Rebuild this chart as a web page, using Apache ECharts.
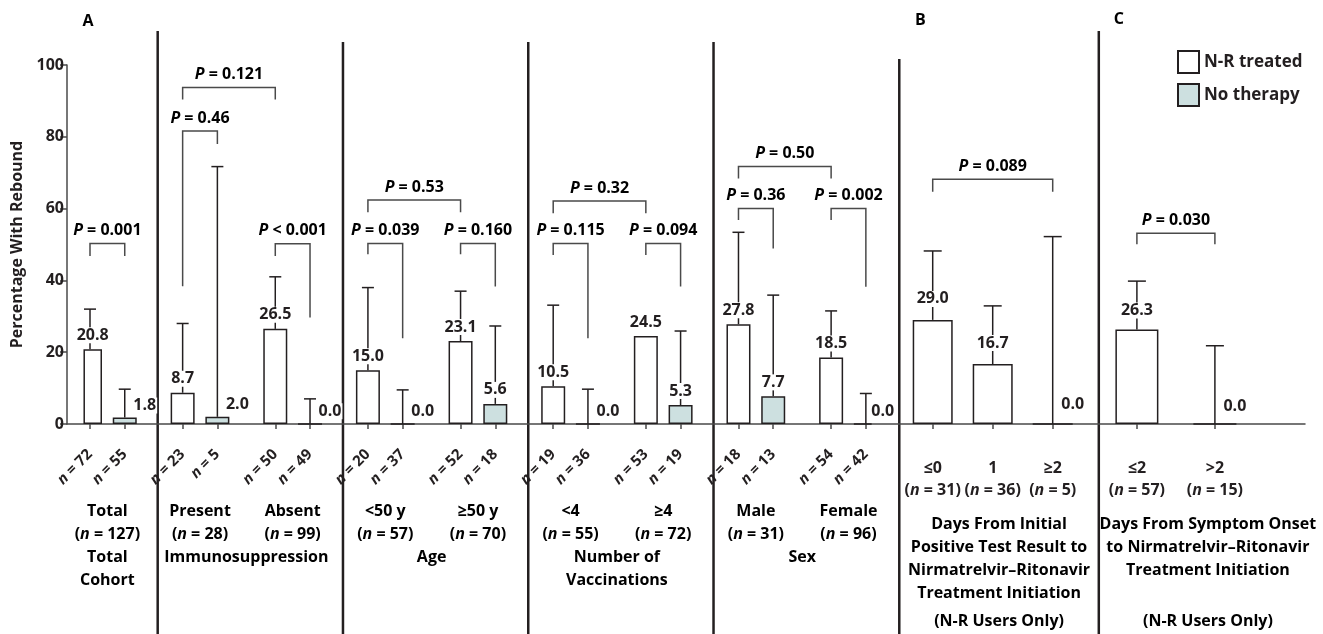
<!DOCTYPE html>
<html>
<head>
<meta charset="utf-8">
<script src="https://cdn.jsdelivr.net/npm/echarts@6/dist/echarts.min.js"></script>
<style>
  html, body { margin: 0; padding: 0; background: #fff; }
  #chart { width: 1323px; height: 634px; }
</style>
</head>
<body>
<div id="chart"></div>
<script>
// panel A: each subgroup has an N-R treated bar and a no-therapy bar
const subgroupsA = ['Total', 'Present', 'Absent', '<50 y', '≥50 y', '<4', '≥4', 'Male', 'Female'];
const subgroupTotalsA = [127, 28, 99, 57, 70, 55, 72, 31, 96];
const treatedNA = [72, 23, 50, 20, 52, 19, 53, 18, 54];
const untreatedNA = [55, 5, 49, 37, 18, 36, 19, 13, 42];
const treatedPctA = [20.8, 8.7, 26.5, 15.0, 23.1, 10.5, 24.5, 27.8, 18.5];
const untreatedPctA = [1.8, 2.0, 0.0, 0.0, 5.6, 0.0, 5.3, 7.7, 0.0];
const treatedUpperA = [32.0, 28.0, 41.0, 38.0, 37.0, 33.1, null, 53.4, 31.5];
const untreatedUpperA = [9.7, 71.7, 7.0, 9.5, 27.3, 9.7, 25.9, 35.9, 8.5];
const groupNamesA = ['Total\nCohort', 'Immunosuppression', 'Age', 'Number of\nVaccinations', 'Sex'];
const groupMembersA = [[0], [1, 2], [3, 4], [5, 6], [7, 8]];

// panel A comparisons: bars are T<i> (treated) / U<i> (no therapy)
const pTextA = ['= 0.001', '= 0.121', '= 0.46', '< 0.001', '= 0.53', '= 0.039', '= 0.160',
  '= 0.32', '= 0.115', '= 0.094', '= 0.50', '= 0.36', '= 0.002'];
const pFromA = ['T0', 'T1', 'T1', 'T2', 'T3', 'T3', 'T4', 'T5', 'T5', 'T6', 'T7', 'T7', 'T8'];
const pToA = ['U0', 'T2', 'U1', 'U2', 'T4', 'U3', 'U4', 'T6', 'U5', 'U6', 'T8', 'U7', 'U8'];
const pTopA = [50.3, 93.7, 81.6, 50.2, 62.4, 50.3, 50.3, 62.1, 50.3, 50.3, 71.7, 60.0, 60.0];
const pLeftEndA = [46.8, 90.4, 38.4, 46.8, 59.0, 47.3, 47.3, 58.7, 47.1, 47.1, 68.4, 56.8, 56.8];
const pRightEndA = [46.8, 90.4, 78.0, 29.7, 59.0, 23.9, 38.3, 58.7, 23.9, 38.3, 68.4, 48.9, 38.2];

// panel B: days from positive test to N-R start
const daysTestCats = ['≤0', '1', '≥2'];
const daysTestN = [31, 36, 5];
const daysTestPct = [29.0, 16.7, 0.0];
const daysTestUpper = [48.2, 32.9, 52.2];
const pTextB = ['= 0.089'];
const pBracketB = [[0, 2, 68.2, 64.7, 64.7]];

// panel C: days from symptom onset to N-R start
const daysOnsetCats = ['≤2', '>2'];
const daysOnsetN = [57, 15];
const daysOnsetPct = [26.3, 0.0];
const daysOnsetUpper = [39.8, 21.8];
const pTextC = ['= 0.030'];
const pBracketC = [[0, 1, 53.1, 50.1, 50.1]];

const INK = '#231f20';
const LINE = '#4a4a4a';
const FONT = '"Open Sans", "DejaVu Sans", sans-serif';
const NO_THERAPY = '#cde0e0';

const txt = (size, extra) => Object.assign({ fontFamily: FONT, fontWeight: 'bold', fontSize: size, color: INK }, extra || {});
const richN = (size, lh) => ({ i: txt(size, { fontStyle: 'italic', lineHeight: lh }), b: txt(size, { lineHeight: lh }) });

// slots on panel A axis: pairs 3 slots apart, 8 slots per subgroup
const slotOf = (i, untreated) => i * 8 + (untreated ? 3 : 0);
const nSlots = slotOf(subgroupsA.length - 1, true) + 1;
const slotCats = Array.from({ length: nSlots }, (_, k) => '#' + k);
subgroupsA.forEach((_, i) => {
  slotCats[slotOf(i, false)] = String(treatedNA[i]);
  slotCats[slotOf(i, true)] = String(untreatedNA[i]);
});
const isBar = (idx, v) => v[0] !== '#';
const barRef = s => slotOf(+s.slice(1), s[0] === 'U');

const smallLabel = v => (v < 3 ? { value: v, label: { offset: [20, 2] } } : v);
const slotSeries = untreated => slotCats.map((_, k) => {
  const i = subgroupsA.findIndex((__, j) => slotOf(j, untreated) === k);
  return i < 0 ? '-' : smallLabel(untreated ? untreatedPctA[i] : treatedPctA[i]);
});

const errorA = [];
subgroupsA.forEach((_, i) => {
  if (treatedUpperA[i] != null) errorA.push([slotOf(i, false), treatedPctA[i], treatedUpperA[i]]);
  errorA.push([slotOf(i, true), untreatedPctA[i], untreatedUpperA[i]]);
});
const bracketA = pTextA.map((_, k) => [barRef(pFromA[k]), barRef(pToA[k]), pTopA[k], pLeftEndA[k], pRightEndA[k]]);

const valueLabel = distance => txt(16, {
  show: true, position: 'top', distance,
  backgroundColor: '#fff', padding: [0, 1],
  formatter: p => Number(p.value).toFixed(1)
});

const makeErrorBar = cap => (params, api) => {
  const lo = api.coord([api.value(0), api.value(1)]);
  const hi = api.coord([api.value(0), api.value(2)]);
  const style = { stroke: INK, lineWidth: 1.5 };
  return {
    type: 'group', children: [
      { type: 'line', shape: { x1: lo[0], y1: lo[1], x2: hi[0], y2: hi[1] }, style },
      { type: 'line', shape: { x1: hi[0] - cap, y1: hi[1], x2: hi[0] + cap, y2: hi[1] }, style }
    ]
  };
};

const makeBracket = labels => (params, api) => {
  const x1 = api.coord([api.value(0), 0])[0];
  const x2 = api.coord([api.value(1), 0])[0];
  const yTop = api.coord([api.value(0), api.value(2)])[1];
  const yL = api.coord([api.value(0), api.value(3)])[1];
  const yR = api.coord([api.value(0), api.value(4)])[1];
  return {
    type: 'group', children: [
      { type: 'polyline', shape: { points: [[x1, yL], [x1, yTop], [x2, yTop], [x2, yR]] },
        style: { stroke: LINE, lineWidth: 1.5, fill: null } },
      { type: 'text', style: {
          text: '{i|P}{b| ' + labels[params.dataIndex] + '}', x: (x1 + x2) / 2, y: yTop - 3,
          align: 'center', verticalAlign: 'bottom', rich: richN(16, 20)
        } }
    ]
  };
};

const GRID_TOP = 65, GRID_H = 359;
const SLOT_PX = 11.58;
const gridA = { left: 90 - SLOT_PX / 2, width: nSlots * SLOT_PX, top: GRID_TOP, height: GRID_H };
const gridB = { left: 902.7, width: 180, top: GRID_TOP, height: GRID_H };
const gridC = { left: 1097.9, width: 156, top: GRID_TOP, height: GRID_H };

const hiddenY = gridIndex => ({ gridIndex, type: 'value', min: 0, max: 100, show: false });
const tickStyle = { lineStyle: { color: LINE, width: 1.5 } };

const option = {
  animation: false,
  backgroundColor: '#fff',
  legend: {
    data: ['N-R treated', 'No therapy'], orient: 'vertical', left: 1172, top: 45,
    itemWidth: 21, itemHeight: 22, itemGap: 9, icon: 'rect', selectedMode: false,
    textStyle: txt(17)
  },
  grid: [
    { left: 67, width: 1238, top: GRID_TOP, height: GRID_H },
    gridA, gridB, gridC
  ],
  xAxis: [
    { gridIndex: 0, type: 'value', min: 0, max: 1,
      axisLine: { show: true, lineStyle: { color: LINE, width: 1.5 } },
      axisTick: { show: false }, axisLabel: { show: false }, splitLine: { show: false } },
    { gridIndex: 1, type: 'category', data: slotCats,
      axisLine: { show: false },
      axisTick: Object.assign({ show: true, alignWithLabel: true, interval: isBar, length: 5 }, tickStyle),
      axisLabel: { interval: isBar, rotate: 45, margin: 28, formatter: v => '{i|n}{b| = ' + v + '}', rich: richN(15, 18) } },
    { gridIndex: 2, type: 'category', data: daysTestCats,
      axisLine: { show: false },
      axisTick: Object.assign({ show: true, alignWithLabel: true, length: 5 }, tickStyle),
      axisLabel: { interval: 0, margin: 33, formatter: (v, i) => '{b|' + v + '}\n{b|(}{i|n}{b| = ' + daysTestN[i] + ')}', rich: richN(16, 22) } },
    { gridIndex: 3, type: 'category', data: daysOnsetCats,
      axisLine: { show: false },
      axisTick: Object.assign({ show: true, alignWithLabel: true, length: 5 }, tickStyle),
      axisLabel: { interval: 0, margin: 33, formatter: (v, i) => '{b|' + v + '}\n{b|(}{i|n}{b| = ' + daysOnsetN[i] + ')}', rich: richN(16, 22) } }
  ],
  yAxis: [
    { gridIndex: 0, type: 'value', min: 0, max: 100, interval: 20,
      axisLine: { show: true, onZero: false, lineStyle: { color: LINE, width: 1.5 } },
      axisTick: Object.assign({ show: true, length: 7 }, tickStyle),
      axisLabel: txt(16, { margin: 3 }),
      splitLine: { show: false },
      name: 'Percentage With Rebound', nameLocation: 'middle', nameGap: 33,
      nameTextStyle: txt(16) },
    hiddenY(1), hiddenY(2), hiddenY(3)
  ],
  series: [
    { name: 'N-R treated', type: 'bar', xAxisIndex: 1, yAxisIndex: 1, z: 3,
      barWidth: 24, barGap: '-100%', data: slotSeries(false),
      itemStyle: { color: '#fff', borderColor: INK, borderWidth: 1.5 }, label: valueLabel(6) },
    { name: 'No therapy', type: 'bar', xAxisIndex: 1, yAxisIndex: 1, z: 3,
      barWidth: 24, barGap: '-100%', data: slotSeries(true),
      itemStyle: { color: NO_THERAPY, borderColor: INK, borderWidth: 1.5 }, label: valueLabel(6) },
    { type: 'custom', xAxisIndex: 1, yAxisIndex: 1, z: 2, renderItem: makeErrorBar(6), data: errorA },
    { type: 'custom', xAxisIndex: 1, yAxisIndex: 1, z: 2, renderItem: makeBracket(pTextA), data: bracketA },

    { name: 'N-R treated', type: 'bar', xAxisIndex: 2, yAxisIndex: 2, z: 3,
      barWidth: 40, data: daysTestPct.map(smallLabel),
      itemStyle: { color: '#fff', borderColor: INK, borderWidth: 1.5 }, label: valueLabel(13) },
    { type: 'custom', xAxisIndex: 2, yAxisIndex: 2, z: 2, renderItem: makeErrorBar(9),
      data: daysTestPct.map((v, i) => [i, v, daysTestUpper[i]]) },
    { type: 'custom', xAxisIndex: 2, yAxisIndex: 2, z: 2, renderItem: makeBracket(pTextB), data: pBracketB },

    { name: 'N-R treated', type: 'bar', xAxisIndex: 3, yAxisIndex: 3, z: 3,
      barWidth: 43, data: daysOnsetPct.map(smallLabel),
      itemStyle: { color: '#fff', borderColor: INK, borderWidth: 1.5 }, label: valueLabel(11) },
    { type: 'custom', xAxisIndex: 3, yAxisIndex: 3, z: 2, renderItem: makeErrorBar(9),
      data: daysOnsetPct.map((v, i) => [i, v, daysOnsetUpper[i]]) },
    { type: 'custom', xAxisIndex: 3, yAxisIndex: 3, z: 2, renderItem: makeBracket(pTextC), data: pBracketC }
  ]
};

const chart = echarts.init(document.getElementById('chart'));
chart.setOption(option);

// text under the axes and the panel dividers, placed from the axis scales
const px = (axis, v) => chart.convertToPixel({ xAxisIndex: axis }, v);
const pairCenter = i => (px(1, slotOf(i, false)) + px(1, slotOf(i, true))) / 2;
const SEP_TOPS = [31, 42, 42, 42, 59, 31];
const sepX = [];
groupMembersA.slice(0, -1).forEach(m => {
  const last = m[m.length - 1];
  sepX.push((px(1, slotOf(last, true)) + px(1, slotOf(last + 1, false))) / 2 + 4);
});
sepX.push((px(1, nSlots - 1) + px(2, 0)) / 2);
sepX.push((px(2, daysTestCats.length - 1) + px(3, 0)) / 2 + 4);

const textEl = (text, x, y, size, lh) => ({
  type: 'text', silent: true,
  style: { text, x, y, align: 'center', verticalAlign: 'top', rich: richN(size, lh) }
});
const plain = s => s.split('\n').map(l => '{b|' + l + '}').join('\n');

const graphic = [];
sepX.forEach((x, k) => graphic.push({
  type: 'line', silent: true, shape: { x1: x, y1: SEP_TOPS[k], x2: x, y2: 634 },
  style: { stroke: INK, lineWidth: 2.5 }
}));
graphic.push(textEl('{b|A}', px(1, 0) - 2, 11, 16, 20));
graphic.push(textEl('{b|B}', sepX[4] + 21, 10, 16, 20));
graphic.push(textEl('{b|C}', sepX[5] + 20, 9, 16, 20));
subgroupsA.forEach((s, i) => graphic.push(
  textEl('{b|' + s + '}\n{b|(}{i|n}{b| = ' + subgroupTotalsA[i] + ')}', pairCenter(i), 499.5, 16, 23)
));
groupNamesA.forEach((g, k) => {
  const m = groupMembersA[k];
  const x = m.reduce((a, i) => a + pairCenter(i), 0) / m.length;
  graphic.push(textEl(plain(g), x, 546, 16, 23));
});
const midB = (sepX[4] + sepX[5]) / 2;
const midC = (sepX[5] + 1317) / 2;
graphic.push(textEl(plain('Days From Initial\nPositive Test Result to\nNirmatrelvir–Ritonavir\nTreatment Initiation'), midB, 513, 16, 23));
graphic.push(textEl(plain('(N-R Users Only)'), midB, 609.5, 16, 23));
graphic.push(textEl(plain('Days From Symptom Onset\nto Nirmatrelvir–Ritonavir\nTreatment Initiation'), midC, 513, 16, 23));
graphic.push(textEl(plain('(N-R Users Only)'), midC, 609.5, 16, 23));

chart.setOption({ graphic });
</script>
</body>
</html>
